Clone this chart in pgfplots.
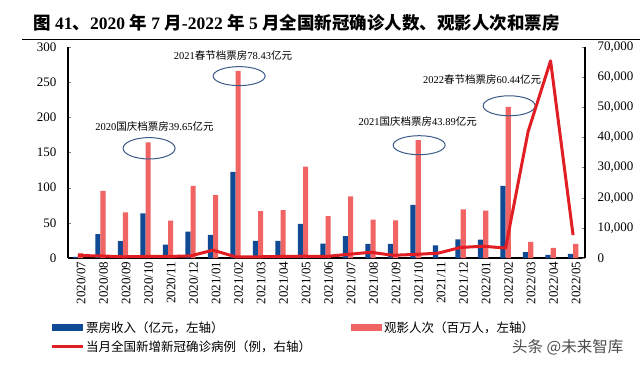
\documentclass[border=0pt]{standalone}
\usepackage{fontspec}
\setmainfont{Liberation Serif}
\newfontfamily\cjk{Noto Sans CJK SC}
\usepackage{pgfplots}
\usepackage{pgfplotstable}
\pgfplotsset{compat=1.18}
\definecolor{barblue}{RGB}{16,74,148}
\definecolor{barred}{RGB}{240,100,100}
\definecolor{linered}{RGB}{225,30,35}
\definecolor{ellc}{RGB}{60,90,135}

\pgfplotstableread{
x box view
0 1.5 7
1 34 95.5
2 24 65
3 63.5 164.5
4 19 53
5 37.5 102.5
6 33 89.5
7 122.5 266
8 24.5 66.5
9 24.5 68
10 48.5 130
11 20.5 59.5
12 31 87.5
13 20 54.5
14 20 53.5
15 75.5 167.5
16 18 0
17 26.5 69
18 26 67.5
19 102.5 215
20 8.5 23
21 4.5 14.5
22 6 20
}\bars

\pgfplotstableread{
x cases
0 800
1 700
2 400
3 500
4 500
5 700
6 2600
7 400
8 400
9 500
10 600
11 500
12 1200
13 1900
14 900
15 1200
16 1600
17 3500
18 3900
19 3300
20 41900
21 65400
22 7600
}\cases

\begin{document}
\begin{tikzpicture}
\useasboundingbox (0bp,0bp) rectangle (640bp,-365bp);
\node[anchor=west, inner sep=0pt] at (33bp,-22.5bp) {\bfseries\fontsize{17.5bp}{17.5bp}\selectfont {\cjk 图} 41{\cjk 、}2020 {\cjk 年} 7 {\cjk 月}-2022 {\cjk 年} 5 {\cjk 月全国新冠确诊人数、观影人次和票房}};
\draw[line width=1.5bp] (22bp,-39.5bp) -- (640bp,-39.5bp);
\node[anchor=west, inner sep=0pt, text=black!70] at (512bp,-347bp) {\cjk\fontsize{15.5bp}{15.5bp}\selectfont 头条 @未来智库};

\begin{axis}[
  at={(68bp,-258bp)}, anchor=south west,
  scale only axis, width=517bp, height=211bp,
  xmin=-0.444, xmax=22.53, ymin=0, ymax=300,
  ybar=0pt, bar width=5.2bp,
  axis x line*=bottom, axis y line*=left,
  axis line style={line width=1.2bp,-},
  xtick={0,...,22},
  xticklabels={2020/07,2020/08,2020/09,2020/10,2020/11,2020/12,2021/01,2021/02,2021/03,2021/04,2021/05,2021/06,2021/07,2021/08,2021/09,2021/10,2021/11,2021/12,2022/01,2022/02,2022/03,2022/04,2022/05},
  x tick label style={rotate=90, anchor=east, font=\fontsize{13bp}{13bp}\selectfont, yshift=-3bp},
  x tick style={draw=none},
  ytick={0,50,...,300},
  tick align=inside, major tick length=3bp,
  y tick label style={font=\fontsize{13bp}{13bp}\selectfont, xshift=-8bp},
  /pgf/number format/assume math mode=true,
  clip=false,
  legend columns=2,
  legend style={at={(-0.0348,-0.29)}, anchor=north west, draw=none, fill=none, inner sep=0pt,
    font=\cjk\fontsize{12.5bp}{13bp}\selectfont, row sep=3bp,
    /tikz/every even column/.append style={column sep=38bp}, cells={anchor=west}},
]
\addplot[fill=barblue, draw=none, legend image code/.code={\fill[barblue] (0bp,-3.2bp) rectangle (31bp,3.2bp);}] table[x=x,y=box]{\bars};
\addlegendentry{票房收入（亿元，左轴）}
\addplot[fill=barred, draw=none, legend image code/.code={\fill[barred] (0bp,-3.2bp) rectangle (31bp,3.2bp);}] table[x=x,y=view]{\bars};
\addlegendentry{观影人次（百万人，左轴）}
\addlegendimage{linered, line width=3bp, legend image code/.code={\draw[linered, line width=3bp] (0bp,0bp) -- (31bp,0bp);}}
\addlegendentry{当月全国新增新冠确诊病例（例，右轴）}

\draw[ellc, line width=1bp] (axis cs:3.16,156) ellipse [x radius=26bp, y radius=10.7bp];
\draw[ellc, line width=1bp] (axis cs:7.16,258.6) ellipse [x radius=26bp, y radius=9.5bp];
\draw[ellc, line width=1bp] (axis cs:15.16,160.4) ellipse [x radius=26bp, y radius=9.5bp];
\draw[ellc, line width=1bp] (axis cs:19.16,216.4) ellipse [x radius=26bp, y radius=10bp];

\node[inner sep=0pt] at (axis cs:3.4,187.6) {\fontsize{10.5bp}{11bp}\selectfont 2020{\cjk 国庆档票房}39.65{\cjk 亿元}};
\node[inner sep=0pt] at (axis cs:6.89,288.5) {\fontsize{10.5bp}{11bp}\selectfont 2021{\cjk 春节档票房}78.43{\cjk 亿元}};
\node[inner sep=0pt] at (axis cs:15.1,194.6) {\fontsize{10.5bp}{11bp}\selectfont 2021{\cjk 国庆档票房}43.89{\cjk 亿元}};
\node[inner sep=0pt] at (axis cs:17.96,254.3) {\fontsize{10.5bp}{11bp}\selectfont 2022{\cjk 春节档票房}60.44{\cjk 亿元}};
\end{axis}

\begin{axis}[
  at={(68bp,-258bp)}, anchor=south west,
  scale only axis, width=517bp, height=211bp,
  xmin=-0.444, xmax=22.53, ymin=0, ymax=70000,
  axis x line=none, axis y line*=right,
  axis line style={line width=1.2bp,-},
  ytick={0,10000,20000,30000,40000,50000,60000,70000},
  scaled y ticks=false,
  tick align=inside, major tick length=3bp,
  y tick label style={font=\fontsize{13bp}{13bp}\selectfont, xshift=9bp, /pgf/number format/1000 sep={,}},
  /pgf/number format/assume math mode=true,
]
\addplot[linered, line width=3bp, mark=none, line join=round] table[x=x,y=cases]{\cases};
\end{axis}
\end{tikzpicture}
\end{document}
